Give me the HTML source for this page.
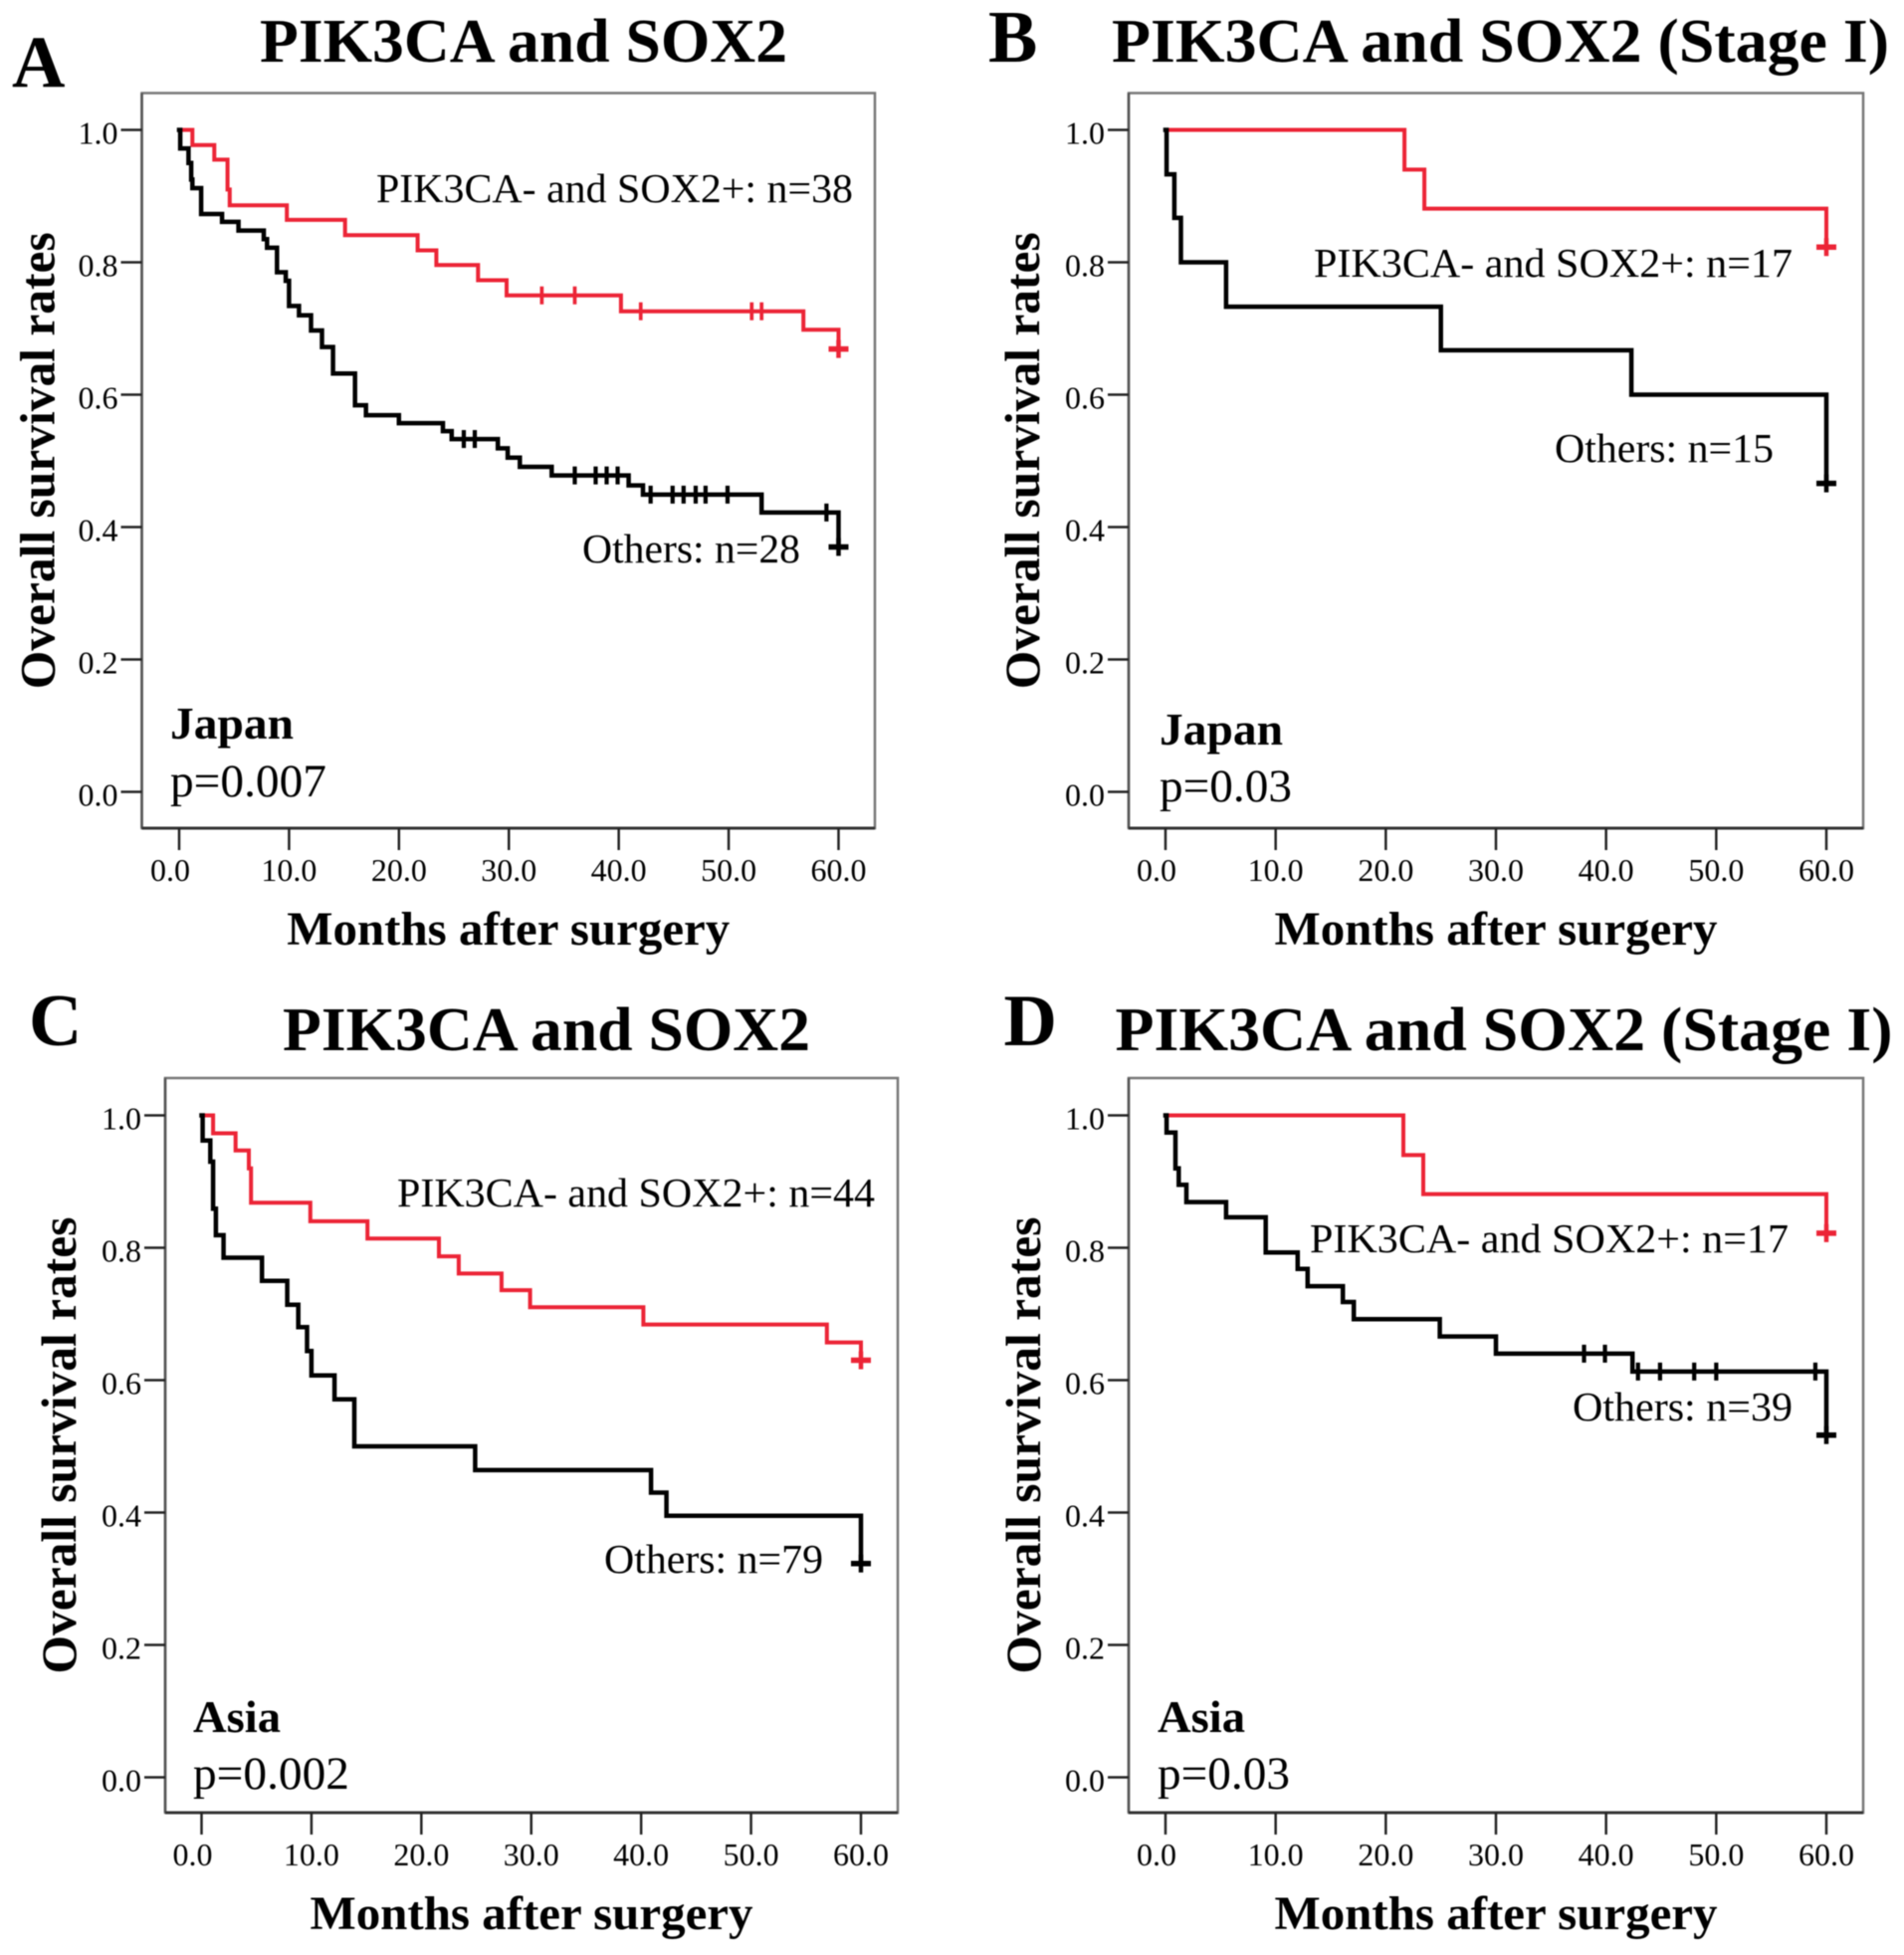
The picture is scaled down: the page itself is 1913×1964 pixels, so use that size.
<!DOCTYPE html>
<html lang="en">
<head>
<meta charset="utf-8">
<title>PIK3CA and SOX2 survival curves</title>
<style>
html,body{margin:0;padding:0;background:#fff;}
svg{display:block;filter:blur(0.45px);}
text{font-family:"Liberation Serif",serif;fill:#000;}
.b{font-weight:bold;}
</style>
</head>
<body>
<svg id="figure" xmlns="http://www.w3.org/2000/svg" width="1913" height="1964" viewBox="0 0 1913 1964">
  <rect x="0" y="0" width="1913" height="1964" fill="#fff"/>

  <text class="b" x="12" y="87" font-size="74">A</text>
  <text class="b" x="261" y="62" font-size="62" textLength="530" lengthAdjust="spacingAndGlyphs">PIK3CA and SOX2</text>
  <text class="b" x="993" y="62" font-size="74">B</text>
  <text class="b" x="1117" y="62" font-size="62" textLength="781" lengthAdjust="spacingAndGlyphs">PIK3CA and SOX2 (Stage I)</text>
  <text class="b" x="29" y="1050" font-size="74">C</text>
  <text class="b" x="284" y="1055" font-size="62" textLength="530" lengthAdjust="spacingAndGlyphs">PIK3CA and SOX2</text>
  <text class="b" x="1008.5" y="1050" font-size="74">D</text>
  <text class="b" x="1120.5" y="1055" font-size="62" textLength="781" lengthAdjust="spacingAndGlyphs">PIK3CA and SOX2 (Stage I)</text>

  <g id="plots"></g>

  <text x="378" y="203" font-size="41" textLength="479" lengthAdjust="spacingAndGlyphs">PIK3CA- and SOX2+: n=38</text>
  <text x="585" y="565" font-size="41" textLength="219" lengthAdjust="spacingAndGlyphs">Others: n=28</text>
  <text class="b" x="171" y="742" font-size="46" textLength="124" lengthAdjust="spacingAndGlyphs">Japan</text>
  <text x="171" y="800" font-size="47" textLength="157" lengthAdjust="spacingAndGlyphs">p=0.007</text>

  <text x="1320" y="278" font-size="41" textLength="481" lengthAdjust="spacingAndGlyphs">PIK3CA- and SOX2+: n=17</text>
  <text x="1562" y="464" font-size="41" textLength="220" lengthAdjust="spacingAndGlyphs">Others: n=15</text>
  <text class="b" x="1165" y="748" font-size="46" textLength="124" lengthAdjust="spacingAndGlyphs">Japan</text>
  <text x="1165" y="805" font-size="47" textLength="133" lengthAdjust="spacingAndGlyphs">p=0.03</text>

  <text x="399" y="1212" font-size="41" textLength="480" lengthAdjust="spacingAndGlyphs">PIK3CA- and SOX2+: n=44</text>
  <text x="607" y="1580" font-size="41" textLength="220" lengthAdjust="spacingAndGlyphs">Others: n=79</text>
  <text class="b" x="194" y="1740" font-size="46" textLength="88" lengthAdjust="spacingAndGlyphs">Asia</text>
  <text x="194" y="1797" font-size="47" textLength="157" lengthAdjust="spacingAndGlyphs">p=0.002</text>

  <text x="1316" y="1258" font-size="41" textLength="481" lengthAdjust="spacingAndGlyphs">PIK3CA- and SOX2+: n=17</text>
  <text x="1580" y="1427" font-size="41" textLength="221" lengthAdjust="spacingAndGlyphs">Others: n=39</text>
  <text class="b" x="1163" y="1740" font-size="46" textLength="88" lengthAdjust="spacingAndGlyphs">Asia</text>
  <text x="1163" y="1797" font-size="47" textLength="133" lengthAdjust="spacingAndGlyphs">p=0.03</text>
</svg>

<script>
const monthTicks = [0, 10, 20, 30, 40, 50, 60];
const monthTickLabels = ["0.0", "10.0", "20.0", "30.0", "40.0", "50.0", "60.0"];
const survivalTicks = [0, 0.2, 0.4, 0.6, 0.8, 1];
const survivalTickLabels = ["0.0", "0.2", "0.4", "0.6", "0.8", "1.0"];

const aRedMonths = [1.2, 3.2, 4.4, 4.6, 9.8, 15.1, 21.7, 23.4, 27.2, 29.8, 40.2, 56.8, 60];
const aRedSurvival = [0.977, 0.955, 0.91, 0.886, 0.864, 0.841, 0.818, 0.796, 0.773, 0.75, 0.726, 0.698, 0.669];
const aRedCensored = [33, 36, 42, 52.1, 53];
const aBlackMonths = [0.1, 0.85, 1.1, 1.2, 2, 3.9, 5.4, 7.7, 8, 8.9, 9.7, 10, 10.9, 12, 13, 14, 16, 17, 20, 24, 24.8, 29, 29.9, 31, 33.9, 40.9, 42.2, 53, 60];
const aBlackSurvival = [0.972, 0.95, 0.925, 0.912, 0.873, 0.861, 0.848, 0.835, 0.822, 0.785, 0.772, 0.734, 0.72, 0.697, 0.672, 0.632, 0.584, 0.569, 0.557, 0.545, 0.533, 0.519, 0.505, 0.491, 0.478, 0.463, 0.449, 0.422, 0.37];
const aBlackCensored = [25.9, 26.9, 36, 37.9, 38.9, 39.9, 42.9, 44.9, 45.9, 47, 47.9, 49.9, 58.9];

const bRedMonths = [21.7, 23.5, 60];
const bRedSurvival = [0.94, 0.881, 0.823];
const bRedCensored = [];
const bBlackMonths = [0.1, 0.8, 1.4, 5.5, 25, 42.3, 60];
const bBlackSurvival = [0.933, 0.867, 0.8, 0.733, 0.667, 0.6, 0.466];
const bBlackCensored = [];

const cRedMonths = [1.05, 3.1, 4.3, 4.5, 9.9, 15.1, 21.6, 23.4, 27.3, 29.9, 40.2, 56.9, 60];
const cRedSurvival = [0.973, 0.947, 0.92, 0.868, 0.84, 0.814, 0.787, 0.761, 0.736, 0.71, 0.684, 0.657, 0.63];
const cRedCensored = [];
const cBlackMonths = [0.1, 0.8, 1.05, 1.3, 2, 5.5, 7.8, 8.8, 9.6, 10, 12.1, 13.9, 24.9, 40.9, 42.3, 60];
const cBlackSurvival = [0.962, 0.93, 0.859, 0.819, 0.785, 0.75, 0.714, 0.68, 0.644, 0.607, 0.571, 0.5, 0.464, 0.43, 0.395, 0.323];
const cBlackCensored = [];

const dRedMonths = [21.6, 23.4, 60];
const dRedSurvival = [0.94, 0.881, 0.822];
const dRedCensored = [];
const dBlackMonths = [0.1, 0.9, 1.2, 1.9, 5.5, 9.1, 12, 12.9, 16.1, 17.1, 24.9, 30, 42.4, 60];
const dBlackSurvival = [0.974, 0.92, 0.895, 0.869, 0.846, 0.793, 0.768, 0.742, 0.718, 0.692, 0.666, 0.64, 0.613, 0.517];
const dBlackCensored = [38, 39.9, 42.9, 44.9, 48, 50, 59];

const NS = "http://www.w3.org/2000/svg";
const plots = document.getElementById("plots");
const RED = "#ec2436";
const BLACK = "#000";

function make(tag, attrs, parent) {
  const el = document.createElementNS(NS, tag);
  for (const k in attrs) el.setAttribute(k, attrs[k]);
  parent.appendChild(el);
  return el;
}

function levelAt(months, survival, m) {
  let s = 1;
  for (let i = 0; i < months.length; i++) {
    if (months[i] <= m) s = survival[i];
  }
  return s;
}

function drawSeries(g, id, color, width, xs, ys, months, survival, censored) {
  let d = "M" + xs(0) + " " + ys(1);
  months.forEach(function (m, i) {
    d += "H" + xs(m).toFixed(1) + "V" + ys(survival[i]).toFixed(1);
  });
  const line = make("path", { d: d, fill: "none", stroke: color, "stroke-width": width, "stroke-linejoin": "miter", "stroke-linecap": "square" }, g);
  
  

  censored.forEach(function (m) {
    const y = ys(levelAt(months, survival, m));
    const tick = make("line", { x1: xs(m), x2: xs(m), y1: y - 9, y2: y + 9, stroke: color, "stroke-width": width - 0.3 }, g);
    
    
  });

  const lastM = months[months.length - 1];
  const lastS = survival[survival.length - 1];
  const ex = xs(lastM), ey = ys(lastS);
  const endH = make("line", { x1: ex - 10, x2: ex + 10, y1: ey, y2: ey, stroke: color, "stroke-width": 5.5 }, g);
  
  
  const endV = make("line", { x1: ex, x2: ex, y1: ey - 9, y2: ey + 9, stroke: color, "stroke-width": 4.5 }, g);
  
  
}

function drawPanel(id, box, red, black) {
  const g = make("g", {}, plots);
  
  

  const xs = function (m) { return box.x0 + m * (box.x60 - box.x0) / 60; };
  const ys = function (s) { return box.y0 - s * (box.y0 - box.y1); };

  const frame = make("rect", { x: box.left, y: box.top, width: box.right - box.left, height: box.bottom - box.top, fill: "#fff", stroke: "#777", "stroke-width": 2.5 }, g);
  
  

  const leftAxis = make("line", { x1: box.left, x2: box.left, y1: box.top, y2: box.bottom, stroke: "#555", "stroke-width": 2.5 }, g);
  
  

  const base = make("line", { x1: box.left, x2: box.right, y1: box.bottom, y2: box.bottom, stroke: "#333", "stroke-width": 3 }, g);
  
  

  survivalTicks.forEach(function (v, i) {
    const t = make("line", { x1: box.left - 21, x2: box.left, y1: ys(v), y2: ys(v), stroke: "#222", "stroke-width": 2.5 }, g);
    
    
    const l = make("text", { x: box.left - 24, y: ys(v) + 14, "text-anchor": "end", "font-size": 32 }, g);
    
    
    l.textContent = survivalTickLabels[i];
  });

  monthTicks.forEach(function (v, i) {
    const t = make("line", { x1: xs(v), x2: xs(v), y1: box.bottom, y2: box.bottom + 22, stroke: "#222", "stroke-width": 2.5 }, g);
    
    
    const shift = v === 0 ? -9 : 0;
    const l = make("text", { x: xs(v) + shift, y: box.bottom + 53, "text-anchor": "middle", "font-size": 32 }, g);
    
    
    l.textContent = monthTickLabels[i];
  });

  const cx = (box.left + box.right) / 2;
  const cy = (box.top + box.bottom) / 2;
  const xt = make("text", { class: "b", x: cx - 222.5, y: box.bottom + 117, "font-size": 48, textLength: 445, lengthAdjust: "spacingAndGlyphs" }, g);
  
  
  xt.textContent = "Months after surgery";

  const yx = box.left - box.yTitleOffset;
  const yt = make("text", { class: "b", x: 0, y: 0, "font-size": 50, textLength: 459, lengthAdjust: "spacingAndGlyphs", transform: "translate(" + yx + " " + (cy + 229.5) + ") rotate(-90)" }, g);
  
  
  yt.textContent = "Overall survival rates";

  drawSeries(g, 'panel-' + id + '-sox2', RED, 4, xs, ys, red.months, red.survival, red.censored);
  drawSeries(g, 'panel-' + id + '-others', BLACK, 4.5, xs, ys, black.months, black.survival, black.censored);
}

drawPanel('a',
  { left: 142.5, right: 879, top: 93.5, bottom: 832, x0: 180, x60: 842.5, y1: 130.5, y0: 795.5, yTitleOffset: 88 },
  { months: aRedMonths, survival: aRedSurvival, censored: aRedCensored },
  { months: aBlackMonths, survival: aBlackSurvival, censored: aBlackCensored });
drawPanel('b',
  { left: 1134, right: 1872, top: 93.5, bottom: 832, x0: 1171, x60: 1835, y1: 130.5, y0: 795.5, yTitleOffset: 90 },
  { months: bRedMonths, survival: bRedSurvival, censored: bRedCensored },
  { months: bBlackMonths, survival: bBlackSurvival, censored: bBlackCensored });
drawPanel('c',
  { left: 166, right: 902, top: 1083, bottom: 1821, x0: 202.5, x60: 865, y1: 1120.5, y0: 1785.5, yTitleOffset: 90 },
  { months: cRedMonths, survival: cRedSurvival, censored: cRedCensored },
  { months: cBlackMonths, survival: cBlackSurvival, censored: cBlackCensored });
drawPanel('d',
  { left: 1134, right: 1872, top: 1083, bottom: 1821, x0: 1171, x60: 1835, y1: 1120.5, y0: 1785.5, yTitleOffset: 89 },
  { months: dRedMonths, survival: dRedSurvival, censored: dRedCensored },
  { months: dBlackMonths, survival: dBlackSurvival, censored: dBlackCensored });
</script>
</body>
</html>
